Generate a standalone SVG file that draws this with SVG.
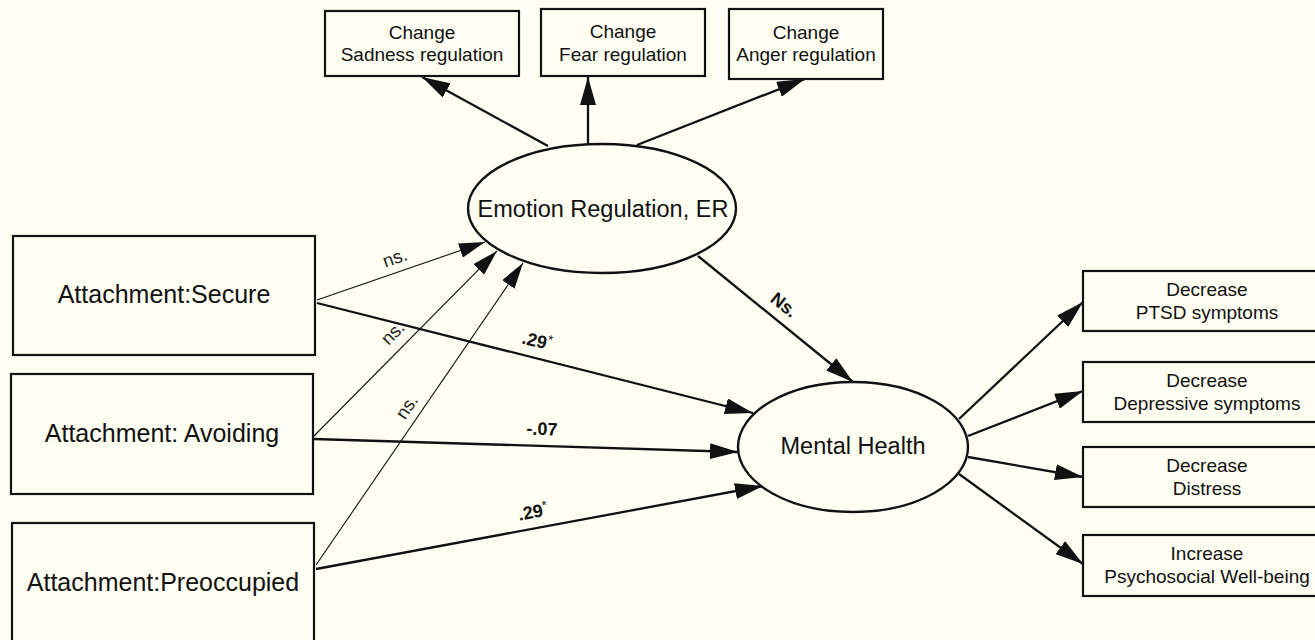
<svg xmlns="http://www.w3.org/2000/svg" width="1315" height="640" viewBox="0 0 1315 640">
<defs>
<style>
.bg{fill:#FEFEF2}
.box{fill:#FEFEF2;stroke:#111;stroke-width:2.2}
.ell{fill:#FEFEF2;stroke:#111;stroke-width:2.4}
text{font-family:"Liberation Sans",Arial,sans-serif;fill:#111;text-anchor:middle}
.big{font-size:25px}
.mid{font-size:23.5px}
.sm{font-size:19px}
.lab{font-size:18.5px;fill:#222}
.labb{font-size:18px;font-weight:bold}
.thick{stroke:#111;stroke-width:2.3;fill:none;marker-end:url(#ah)}
.thin{stroke:#111;stroke-width:1.1;fill:none;marker-end:url(#ah2)}
</style>
<marker id="ah" viewBox="0 0 28 16" refX="28" refY="8" markerWidth="28" markerHeight="16" markerUnits="userSpaceOnUse" orient="auto">
<path d="M0,0 L28,8 L0,16 z" fill="#111"/>
</marker>
<marker id="ah2" viewBox="0 0 26 15" refX="26" refY="7.5" markerWidth="26" markerHeight="15" markerUnits="userSpaceOnUse" orient="auto">
<path d="M0,0 L26,7.5 L0,15 z" fill="#111"/>
</marker>
</defs>
<rect class="bg" x="0" y="0" width="1315" height="640"/>

<g id="connectors">
<line class="thick" x1="548" y1="146" x2="422" y2="77"/>
<line class="thick" x1="588" y1="144" x2="588" y2="77"/>
<line class="thick" x1="637" y1="145" x2="805" y2="79"/>
<line class="thin" x1="317" y1="300" x2="485" y2="242"/>
<line class="thin" x1="314" y1="436" x2="497" y2="251"/>
<line class="thin" x1="316" y1="565" x2="523" y2="263"/>
<line class="thick" x1="317" y1="303" x2="753" y2="413"/>
<line class="thick" x1="314" y1="439" x2="738" y2="452"/>
<line class="thick" x1="316" y1="569" x2="763" y2="486"/>
<line class="thick" x1="698" y1="256" x2="853" y2="382"/>
<line class="thick" x1="959" y1="419" x2="1083" y2="302"/>
<line class="thick" x1="968" y1="436" x2="1083" y2="391"/>
<line class="thick" x1="968" y1="457" x2="1083" y2="477"/>
<line class="thick" x1="959" y1="474" x2="1083" y2="564"/>
<text class="lab" transform="translate(395,258) rotate(-19)" y="6">ns.</text>
<text class="lab" transform="translate(393,333) rotate(-45)" y="6">ns.</text>
<text class="lab" transform="translate(407,407) rotate(-56)" y="6">ns.</text>
<text class="labb" transform="translate(537,341) rotate(14)" y="6">.29<tspan font-size="13" font-weight="normal" dy="-6">*</tspan></text>
<text class="labb" transform="translate(542,429) rotate(2)" y="6">-.07</text>
<text class="labb" transform="translate(533,512) rotate(-11)" y="6">.29<tspan font-size="13" font-weight="normal" dy="-6">*</tspan></text>
<text class="labb" transform="translate(784,305) rotate(39)" y="6">Ns.</text>
</g>

<g id="sadness">
<rect class="box" x="325" y="11" width="194" height="65"/>
<text class="sm" x="422" y="39">Change</text>
<text class="sm" x="422" y="61">Sadness regulation</text>
</g>
<g id="fear">
<rect class="box" x="541" y="9" width="164" height="67"/>
<text class="sm" x="623" y="38">Change</text>
<text class="sm" x="623" y="61">Fear regulation</text>
</g>
<g id="anger">
<rect class="box" x="729" y="9" width="154" height="70"/>
<text class="sm" x="806" y="39">Change</text>
<text class="sm" x="806" y="61">Anger regulation</text>
</g>

<g id="er">
<ellipse class="ell" cx="602" cy="208.5" rx="134" ry="64.5"/>
<text class="mid" x="603" y="217">Emotion Regulation, ER</text>
</g>

<g id="secure">
<rect class="box" x="13" y="236" width="302" height="119"/>
<text class="big" x="164" y="303">Attachment:Secure</text>
</g>
<g id="avoiding">
<rect class="box" x="11" y="374" width="302" height="120"/>
<text class="big" x="162" y="442">Attachment: Avoiding</text>
</g>
<g id="preoccupied">
<rect class="box" x="12" y="523" width="302" height="130"/>
<text class="big" x="163" y="591">Attachment:Preoccupied</text>
</g>

<g id="mh">
<ellipse class="ell" cx="853" cy="447" rx="115" ry="65"/>
<text class="mid" x="853" y="454">Mental Health</text>
</g>

<g id="ptsd">
<rect class="box" x="1083" y="271" width="250" height="60"/>
<text class="sm" x="1207" y="296">Decrease</text>
<text class="sm" x="1207" y="319">PTSD symptoms</text>
</g>
<g id="depressive">
<rect class="box" x="1083" y="362" width="250" height="60"/>
<text class="sm" x="1207" y="387">Decrease</text>
<text class="sm" x="1207" y="410">Depressive symptoms</text>
</g>
<g id="distress">
<rect class="box" x="1083" y="447" width="250" height="60"/>
<text class="sm" x="1207" y="472">Decrease</text>
<text class="sm" x="1207" y="495">Distress</text>
</g>
<g id="wellbeing">
<rect class="box" x="1083" y="535" width="250" height="61"/>
<text class="sm" x="1207" y="560">Increase</text>
<text class="sm" x="1207" y="583">Psychosocial Well-being</text>
</g>
</svg>
